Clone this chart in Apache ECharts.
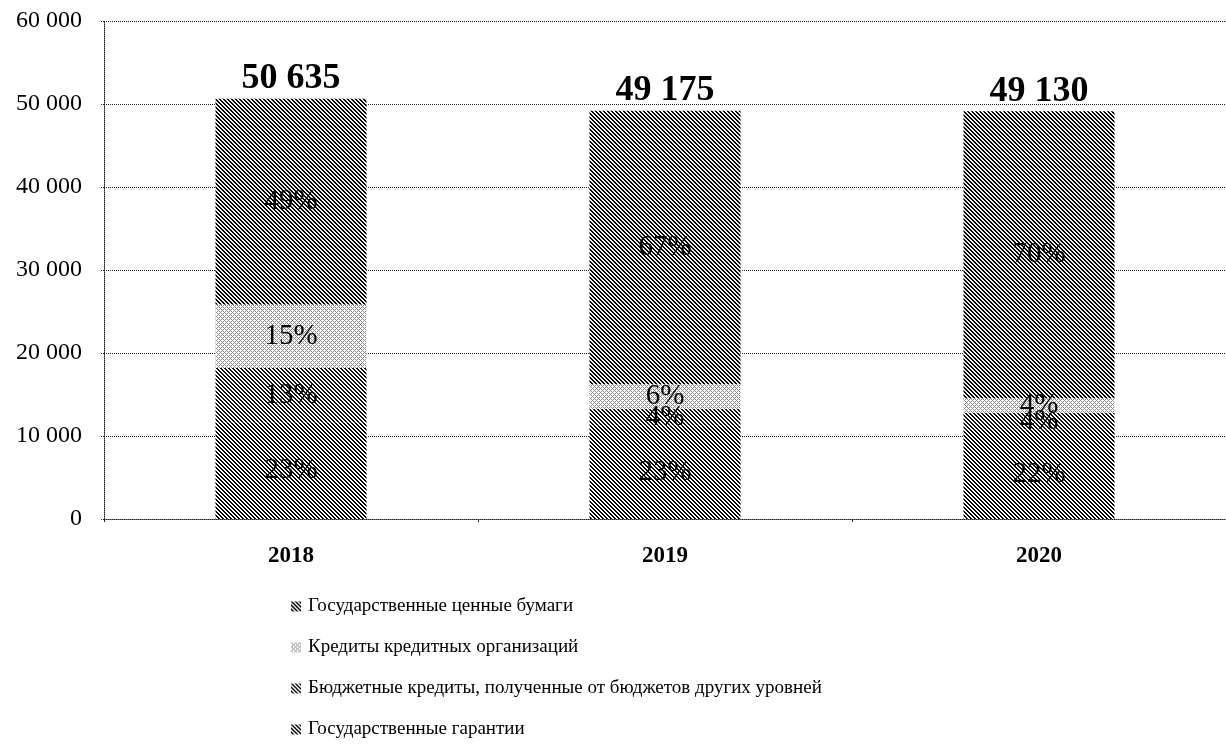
<!DOCTYPE html>
<html>
<head>
<meta charset="utf-8">
<script src="https://cdn.jsdelivr.net/npm/echarts@6/dist/echarts.min.js"></script>
</head>
<body style="margin:0;background:#fff">
<div id="main" style="width:1226px;height:745px;"></div>
<script type="text/javascript">
// данные (млн руб.), стек снизу вверх
var years = ['2018', '2019', '2020'];
var guarantees = [11650, 11310, 10810];   // Государственные гарантии
var budgetLoans = [6580, 1970, 1965];     // Бюджетные кредиты
var bankLoans = [7600, 2950, 1780];       // Кредиты кредитных организаций
var securities = [24805, 32945, 34575];   // Государственные ценные бумаги
var totals = [50635, 49175, 49130];

var names = [
    'Государственные ценные бумаги',
    'Кредиты кредитных организаций',
    'Бюджетные кредиты, полученные от бюджетов других уровней',
    'Государственные гарантии'
];

var serif = "'Liberation Serif', 'Times New Roman', serif";

function fmt(v) {
    return String(v).replace(/\B(?=(\d{3})+(?!\d))/g, ' ');
}

// штриховка "\" на небольшом холсте
function hatch(size, width, ink, paper) {
    var c = document.createElement('canvas');
    c.width = size; c.height = size;
    var ctx = c.getContext('2d');
    ctx.fillStyle = paper;
    ctx.fillRect(0, 0, size, size);
    ctx.fillStyle = ink;
    for (var y = 0; y < size; y++) {
        for (var x = 0; x < size; x++) {
            var d = ((x - y) % size + size) % size;
            if (d < width) ctx.fillRect(x, y, 1, 1);
        }
    }
    return { image: c, repeat: 'repeat' };
}

// светлая косая сетка
function crossHatch(size, ink, paper) {
    var c = document.createElement('canvas');
    c.width = size; c.height = size;
    var ctx = c.getContext('2d');
    ctx.fillStyle = paper;
    ctx.fillRect(0, 0, size, size);
    ctx.fillStyle = ink;
    for (var y = 0; y < size; y++) {
        for (var x = 0; x < size; x++) {
            if ((x - y + size) % size === 0 || (x + y) % size === 0) ctx.fillRect(x, y, 1, 1);
        }
    }
    return { image: c, repeat: 'repeat' };
}

function pctLabel(params) {
    return Math.round(params.value / totals[params.dataIndex] * 100) + '%';
}

function barSeries(name, data, fill) {
    return {
        name: name,
        type: 'bar',
        stack: 'debt',
        barWidth: 151,
        data: data,
        itemStyle: { color: fill },
        label: {
            show: true,
            position: 'inside',
            formatter: pctLabel,
            color: '#000',
            fontFamily: serif,
            fontSize: 29
        },
        emphasis: { disabled: true },
        animation: false
    };
}

var myChart = echarts.init(document.getElementById('main'));

var option = {
    backgroundColor: '#fff',
    grid: { left: 104, right: -9, top: 21, bottom: 226 },
    legend: {
        data: names,
        orient: 'vertical',
        left: 291,
        top: 597,
        padding: 0,
        height: 148,
        itemGap: 22,
        icon: 'rect',
        itemWidth: 10,
        itemHeight: 10,
        textStyle: { fontFamily: serif, fontSize: 19, color: '#000', padding: [0, 0, 0, 2] }
    },
    xAxis: {
        type: 'category',
        data: years,
        axisLine: { lineStyle: { color: '#222', type: 'dotted', width: 1 } },
        axisTick: { show: true, length: 3, lineStyle: { color: '#222' } },
        axisLabel: {
            margin: 26,
            color: '#000',
            fontFamily: serif,
            fontSize: 23,
            fontWeight: 'bold'
        }
    },
    yAxis: {
        type: 'value',
        min: 0,
        max: 60000,
        interval: 10000,
        axisLine: { show: true, lineStyle: { color: '#222', type: 'dotted', width: 1 } },
        axisTick: { show: true, length: 4, lineStyle: { color: '#222', type: 'dotted' } },
        splitLine: { lineStyle: { color: '#222', type: 'dotted', width: 1 } },
        axisLabel: {
            margin: 22,
            color: '#000',
            fontFamily: serif,
            fontSize: 24,
            formatter: fmt
        }
    },
    series: [
        barSeries(names[3], guarantees, hatch(4, 2, '#000', '#fff')),
        barSeries(names[2], budgetLoans, hatch(4, 2, '#111', '#fff')),
        barSeries(names[1], bankLoans, crossHatch(4, '#8a8a8a', '#fff')),
        barSeries(names[0], securities, hatch(4, 2, '#000', '#eee')),
        {
            name: 'total',
            type: 'scatter',
            data: totals,
            symbolSize: 0,
            itemStyle: { color: '#000', opacity: 1 },
            label: {
                show: true,
                position: 'top',
                distance: 2,
                formatter: function (p) { return fmt(p.value); },
                color: '#000',
                opacity: 1,
                fontFamily: serif,
                fontSize: 36,
                fontWeight: 'bold'
            },
            animation: false,
            silent: true
        }
    ]
};
myChart.setOption(option);
</script>
</body>
</html>
